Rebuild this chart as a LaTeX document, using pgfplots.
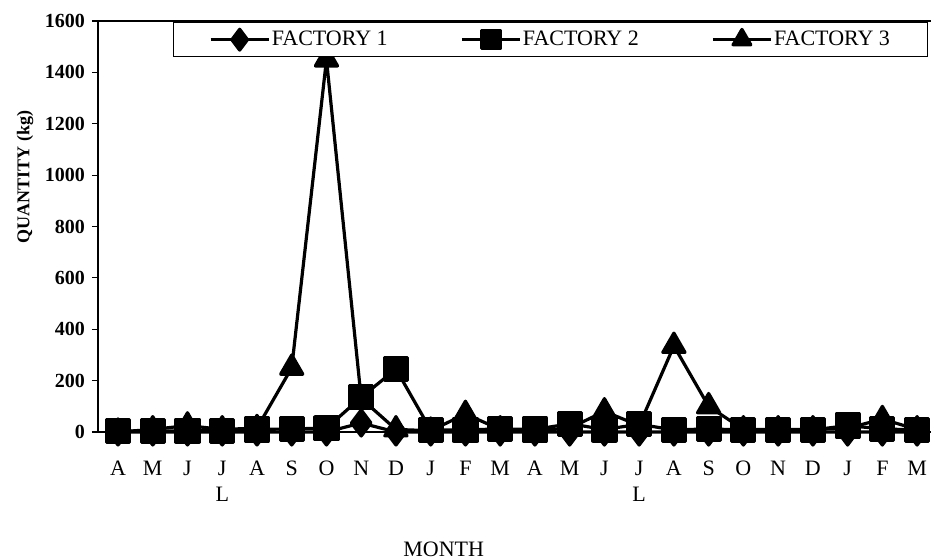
\documentclass[border=0pt]{standalone}
\usepackage{fontspec}
\setmainfont{Liberation Serif}
\usepackage{pgfplots}
\pgfplotsset{compat=1.18}

\begin{document}
\begin{tikzpicture}
% fixed page size around the axis box
\path[use as bounding box] (-49pt,-64pt) rectangle (416.5pt,216pt);
\begin{axis}[
  scale only axis, width=416.5pt, height=205.5pt,
  anchor=south west, at={(0pt,0pt)},
  xmin=-0.576, xmax=23.4, ymin=0, ymax=1600,
  axis x line*=bottom, axis y line*=left,
  axis line style={line width=0.8pt, -},
  clip=false,
  xtick={0,...,23},
  xticklabels={A,M,J,{J\\L},A,S,O,N,D,J,F,M,A,M,J,{J\\L},A,S,O,N,D,J,F,M},
  xticklabel style={font=\fontsize{11}{13}\selectfont, align=center, yshift=-8pt},
  x tick style={draw=none},
  ytick={0,200,...,1600},
  /pgf/number format/assume math mode=true,
  /pgf/number format/1000 sep={},
  yticklabel style={font=\fontsize{10}{12}\selectfont\bfseries},
  y tick style={line width=0.6pt, black},
  tick align=outside, major tick length=3pt,
  xlabel={MONTH},
  xlabel style={at={(axis description cs:0.415,0)}, anchor=center, yshift=-58.5pt, font=\fontsize{11}{13}\selectfont},
  ylabel={QUANTITY (kg)},
  ylabel style={at={(axis description cs:-0.0876,0.62)}, anchor=center, font=\fontsize{9}{11}\selectfont\bfseries},
  legend columns=3,
  legend style={at={(rel axis cs:1,1)}, anchor=north east, xshift=-1.5pt, yshift=-0.5pt,
    draw=black, line width=0.5pt, fill=white, inner xsep=18pt, inner ysep=2.2pt,
    font=\fontsize{11}{13}\selectfont, nodes={inner xsep=0.75pt},
    /tikz/every even column/.append style={column sep=35.5pt}},
  legend image code/.code={
    \draw[mark repeat=2, mark phase=2, every mark/.append style={scale=0.8}]
      plot coordinates {(0pt,0pt) (14.5pt,0pt) (29pt,0pt)};},
  every axis plot/.append style={black, line width=1.6pt, line join=round, mark options={solid}},
]
% Factory 1
\addplot[mark=diamond*, mark size=6.5pt] coordinates {
 (0,0) (1,0) (2,0) (3,0) (4,0) (5,0) (6,0) (7,35) (8,0) (9,0) (10,0) (11,0)
 (12,0) (13,0) (14,0) (15,0) (16,0) (17,0) (18,0) (19,0) (20,0) (21,0) (22,0) (23,0)};
\addlegendentry{FACTORY 1}
% Factory 2
\addplot[mark=square*, mark size=5.75pt] coordinates {
 (0,3) (1,3) (2,5) (3,5) (4,10) (5,12) (6,15) (7,135) (8,245) (9,8) (10,8) (11,12)
 (12,10) (13,32) (14,10) (15,30) (16,8) (17,12) (18,8) (19,8) (20,8) (21,25) (22,12) (23,8)};
\addlegendentry{FACTORY 2}
% Factory 3
\addplot[mark=triangle*, mark size=6.4pt] coordinates {
 (0,0) (1,10) (2,25) (3,10) (4,15) (5,250) (6,1450) (7,130) (8,10) (9,5) (10,70) (11,10)
 (12,5) (13,15) (14,80) (15,25) (16,335) (17,100) (18,10) (19,10) (20,10) (21,15) (22,50) (23,10)};
\addlegendentry{FACTORY 3}
% top border of the plot area
\draw[line width=0.8pt] (rel axis cs:0,1) -- (rel axis cs:1,1);
\end{axis}
\end{tikzpicture}
\end{document}
